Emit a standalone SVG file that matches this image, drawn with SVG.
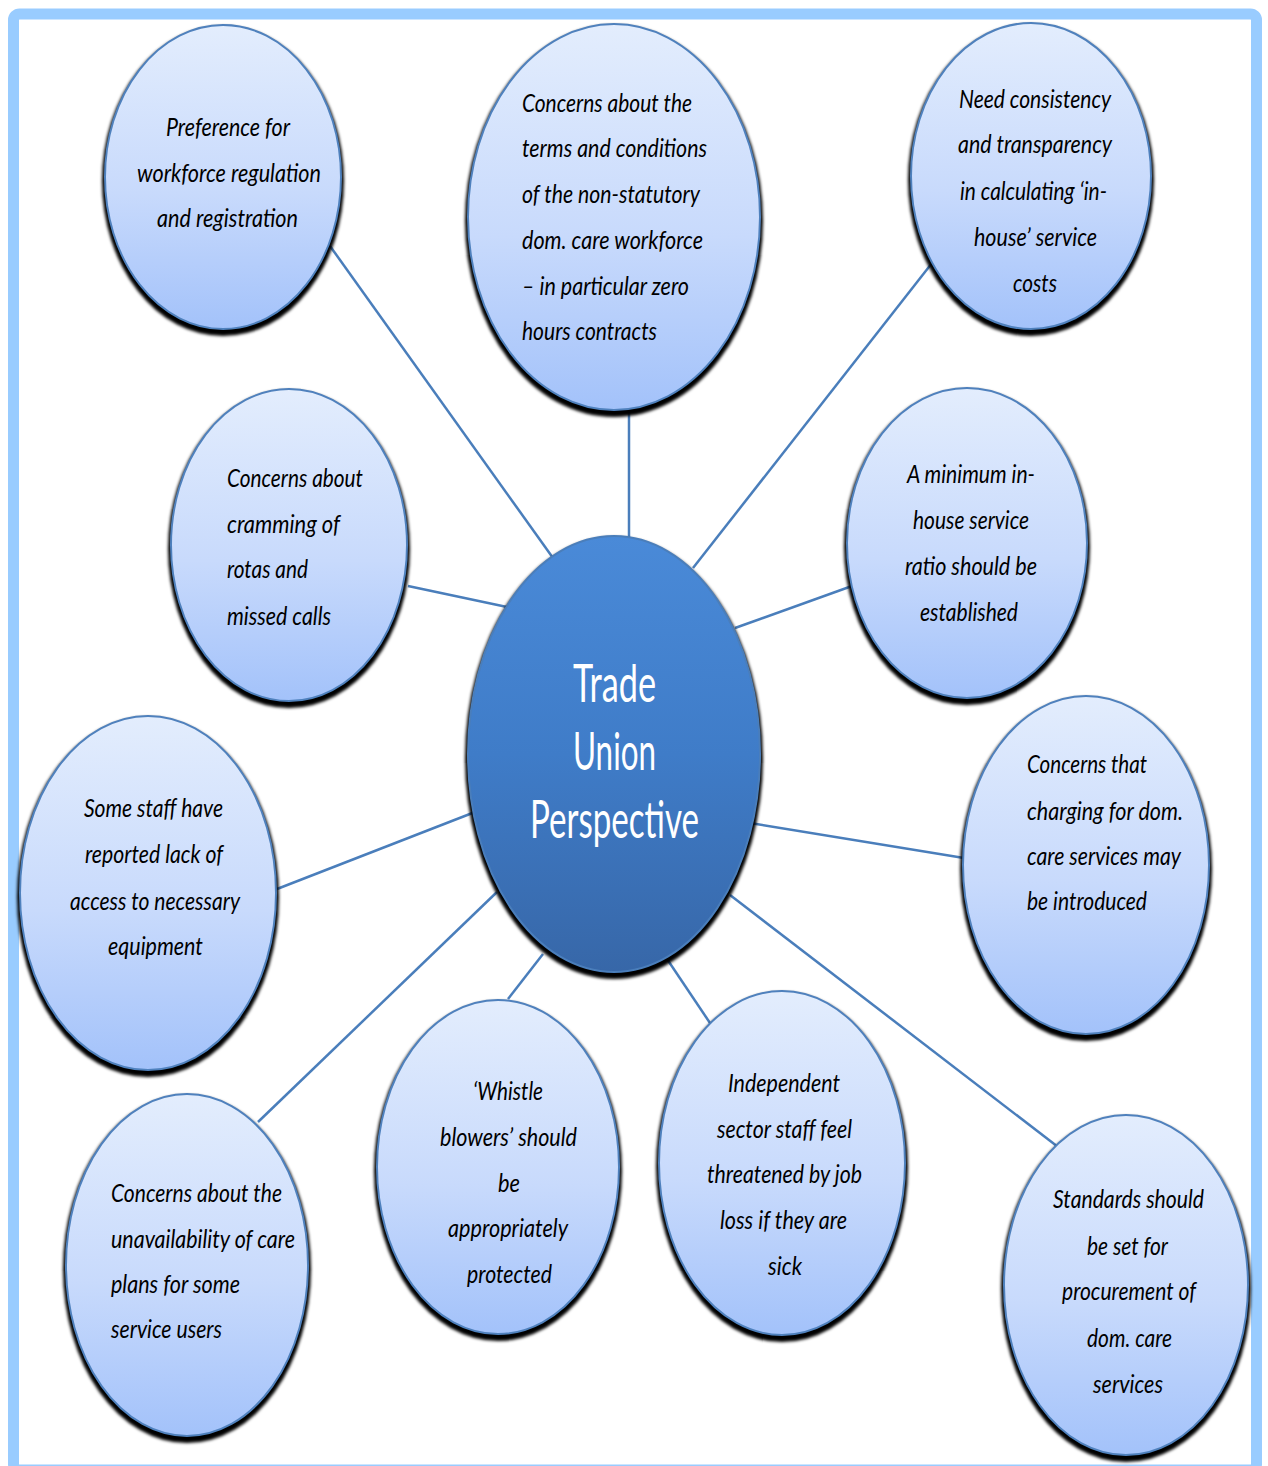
<svg xmlns="http://www.w3.org/2000/svg" width="1268" height="1466" viewBox="0 0 1268 1466">
<style>
.frame{fill:#ffffff;stroke:#99ccff;stroke-width:11}
.shadow{fill:#000000;filter:url(#blur)}
.bubble{fill:url(#gLight);stroke:#4f81bd;stroke-width:2}
.hub{fill:url(#gDark);stroke:#4a7ebb;stroke-width:2}
.conn line{stroke:#4a7ebb;stroke-width:2.5;fill:none}
.t{font-family:Lato,"Liberation Sans","DejaVu Sans",sans-serif;font-style:italic;font-size:26px;fill:#000000}
.h{font-family:Lato,"Liberation Sans","DejaVu Sans",sans-serif;font-size:52px;fill:#ffffff}
</style>
<defs>
<linearGradient id="gLight" x1="0" y1="0" x2="0" y2="1">
<stop offset="0" stop-color="#e3edfd"/>
<stop offset="0.55" stop-color="#c8dafc"/>
<stop offset="1" stop-color="#a3c2fa"/>
</linearGradient>
<linearGradient id="gDark" x1="0" y1="0" x2="0" y2="1">
<stop offset="0" stop-color="#4a8ad8"/>
<stop offset="0.5" stop-color="#3f7cc8"/>
<stop offset="1" stop-color="#3767a8"/>
</linearGradient>
<filter id="blur" x="-10%" y="-10%" width="120%" height="120%">
<feGaussianBlur stdDeviation="1.5"/>
</filter>
</defs>
<rect class="frame" x="13.5" y="14" width="1243" height="1456" rx="6"/>

<g id="connectors" class="conn">
<line x1="330" y1="246" x2="553" y2="558"/>
<line x1="629" y1="410" x2="629" y2="542"/>
<line x1="932" y1="263" x2="693" y2="568"/>
<line x1="408" y1="586" x2="507" y2="607"/>
<line x1="852" y1="586" x2="735" y2="628"/>
<line x1="277" y1="889" x2="475" y2="812"/>
<line x1="964" y1="858" x2="750" y2="823"/>
<line x1="258" y1="1122" x2="497" y2="892"/>
<line x1="508" y1="999" x2="543" y2="954"/>
<line x1="710" y1="1023" x2="663" y2="953"/>
<line x1="1062" y1="1150" x2="730" y2="895"/>
</g>

<g id="n1">
<ellipse class="shadow" cx="223" cy="181" rx="121" ry="155"/>
<ellipse class="bubble" cx="223" cy="177" rx="118" ry="152"/>
<text class="t" x="166" y="136" textLength="124" lengthAdjust="spacingAndGlyphs">Preference for</text>
<text class="t" x="137" y="182" textLength="184" lengthAdjust="spacingAndGlyphs">workforce regulation</text>
<text class="t" x="157" y="227" textLength="141" lengthAdjust="spacingAndGlyphs">and registration</text>
</g>

<g id="n2">
<ellipse class="shadow" cx="614" cy="221" rx="149" ry="196"/>
<ellipse class="bubble" cx="614" cy="217" rx="146" ry="193"/>
<text class="t" x="522" y="112" textLength="170" lengthAdjust="spacingAndGlyphs">Concerns about the</text>
<text class="t" x="522" y="157" textLength="185" lengthAdjust="spacingAndGlyphs">terms and conditions</text>
<text class="t" x="522" y="203" textLength="178" lengthAdjust="spacingAndGlyphs">of the non-statutory</text>
<text class="t" x="522" y="249" textLength="181" lengthAdjust="spacingAndGlyphs">dom. care workforce</text>
<text class="t" x="522" y="295" textLength="167" lengthAdjust="spacingAndGlyphs">– in particular zero</text>
<text class="t" x="522" y="340" textLength="135" lengthAdjust="spacingAndGlyphs">hours contracts</text>
</g>

<g id="n3">
<ellipse class="shadow" cx="1031" cy="180" rx="123" ry="156"/>
<ellipse class="bubble" cx="1031" cy="176" rx="120" ry="153"/>
<text class="t" x="959" y="108" textLength="152" lengthAdjust="spacingAndGlyphs">Need consistency</text>
<text class="t" x="958" y="153" textLength="154" lengthAdjust="spacingAndGlyphs">and transparency</text>
<text class="t" x="960" y="200" textLength="147" lengthAdjust="spacingAndGlyphs">in calculating ‘in-</text>
<text class="t" x="974" y="246" textLength="123" lengthAdjust="spacingAndGlyphs">house’ service</text>
<text class="t" x="1013" y="292" textLength="44" lengthAdjust="spacingAndGlyphs">costs</text>
</g>

<g id="n4">
<ellipse class="shadow" cx="289" cy="549" rx="121" ry="159"/>
<ellipse class="bubble" cx="289" cy="545" rx="118" ry="156"/>
<text class="t" x="227" y="487" textLength="136" lengthAdjust="spacingAndGlyphs">Concerns about</text>
<text class="t" x="227" y="533" textLength="113" lengthAdjust="spacingAndGlyphs">cramming of</text>
<text class="t" x="227" y="578" textLength="81" lengthAdjust="spacingAndGlyphs">rotas and</text>
<text class="t" x="227" y="625" textLength="104" lengthAdjust="spacingAndGlyphs">missed calls</text>
</g>

<g id="n5">
<ellipse class="shadow" cx="967" cy="547" rx="123" ry="158"/>
<ellipse class="bubble" cx="967" cy="543" rx="120" ry="155"/>
<text class="t" x="907" y="483" textLength="128" lengthAdjust="spacingAndGlyphs">A minimum in-</text>
<text class="t" x="913" y="529" textLength="116" lengthAdjust="spacingAndGlyphs">house service</text>
<text class="t" x="905" y="575" textLength="132" lengthAdjust="spacingAndGlyphs">ratio should be</text>
<text class="t" x="920" y="621" textLength="98" lengthAdjust="spacingAndGlyphs">established</text>
</g>

<g id="n6">
<ellipse class="shadow" cx="614" cy="758" rx="149" ry="221"/>
<ellipse class="hub" cx="614" cy="754" rx="146" ry="218"/>
<text class="h" x="573" y="702" textLength="83" lengthAdjust="spacingAndGlyphs">Trade</text>
<text class="h" x="573" y="770" textLength="83" lengthAdjust="spacingAndGlyphs">Union</text>
<text class="h" x="530" y="838" textLength="169" lengthAdjust="spacingAndGlyphs">Perspective</text>
</g>

<g id="n7">
<ellipse class="shadow" cx="148" cy="897" rx="131" ry="180"/>
<ellipse class="bubble" cx="148" cy="893" rx="128" ry="177"/>
<text class="t" x="84" y="817" textLength="139" lengthAdjust="spacingAndGlyphs">Some staff have</text>
<text class="t" x="85" y="863" textLength="138" lengthAdjust="spacingAndGlyphs">reported lack of</text>
<text class="t" x="70" y="910" textLength="170" lengthAdjust="spacingAndGlyphs">access to necessary</text>
<text class="t" x="108" y="955" textLength="95" lengthAdjust="spacingAndGlyphs">equipment</text>
</g>

<g id="n8">
<ellipse class="shadow" cx="1086" cy="869" rx="126" ry="172"/>
<ellipse class="bubble" cx="1086" cy="865" rx="123" ry="169"/>
<text class="t" x="1027" y="773" textLength="120" lengthAdjust="spacingAndGlyphs">Concerns that</text>
<text class="t" x="1027" y="820" textLength="156" lengthAdjust="spacingAndGlyphs">charging for dom.</text>
<text class="t" x="1027" y="865" textLength="154" lengthAdjust="spacingAndGlyphs">care services may</text>
<text class="t" x="1027" y="910" textLength="120" lengthAdjust="spacingAndGlyphs">be introduced</text>
</g>

<g id="n9">
<ellipse class="shadow" cx="187" cy="1269" rx="124" ry="174"/>
<ellipse class="bubble" cx="187" cy="1265" rx="121" ry="171"/>
<text class="t" x="111" y="1202" textLength="171" lengthAdjust="spacingAndGlyphs">Concerns about the</text>
<text class="t" x="111" y="1248" textLength="184" lengthAdjust="spacingAndGlyphs">unavailability of care</text>
<text class="t" x="111" y="1293" textLength="129" lengthAdjust="spacingAndGlyphs">plans for some</text>
<text class="t" x="111" y="1338" textLength="111" lengthAdjust="spacingAndGlyphs">service users</text>
</g>

<g id="n10">
<ellipse class="shadow" cx="498" cy="1171" rx="124" ry="170"/>
<ellipse class="bubble" cx="498" cy="1167" rx="121" ry="167"/>
<text class="t" x="473" y="1100" textLength="70" lengthAdjust="spacingAndGlyphs">‘Whistle</text>
<text class="t" x="440" y="1146" textLength="137" lengthAdjust="spacingAndGlyphs">blowers’ should</text>
<text class="t" x="498" y="1192" textLength="22" lengthAdjust="spacingAndGlyphs">be</text>
<text class="t" x="448" y="1237" textLength="120" lengthAdjust="spacingAndGlyphs">appropriately</text>
<text class="t" x="467" y="1283" textLength="85" lengthAdjust="spacingAndGlyphs">protected</text>
</g>

<g id="n11">
<ellipse class="shadow" cx="782" cy="1167" rx="126" ry="175"/>
<ellipse class="bubble" cx="782" cy="1163" rx="123" ry="172"/>
<text class="t" x="728" y="1092" textLength="112" lengthAdjust="spacingAndGlyphs">Independent</text>
<text class="t" x="717" y="1138" textLength="135" lengthAdjust="spacingAndGlyphs">sector staff feel</text>
<text class="t" x="707" y="1183" textLength="155" lengthAdjust="spacingAndGlyphs">threatened by job</text>
<text class="t" x="720" y="1229" textLength="127" lengthAdjust="spacingAndGlyphs">loss if they are</text>
<text class="t" x="768" y="1275" textLength="34" lengthAdjust="spacingAndGlyphs">sick</text>
</g>

<g id="n12">
<ellipse class="shadow" cx="1126" cy="1289" rx="125" ry="173"/>
<ellipse class="bubble" cx="1126" cy="1285" rx="122" ry="170"/>
<text class="t" x="1053" y="1208" textLength="151" lengthAdjust="spacingAndGlyphs">Standards should</text>
<text class="t" x="1087" y="1255" textLength="81" lengthAdjust="spacingAndGlyphs">be set for</text>
<text class="t" x="1062" y="1300" textLength="134" lengthAdjust="spacingAndGlyphs">procurement of</text>
<text class="t" x="1087" y="1347" textLength="85" lengthAdjust="spacingAndGlyphs">dom. care</text>
<text class="t" x="1093" y="1393" textLength="70" lengthAdjust="spacingAndGlyphs">services</text>
</g>
</svg>
